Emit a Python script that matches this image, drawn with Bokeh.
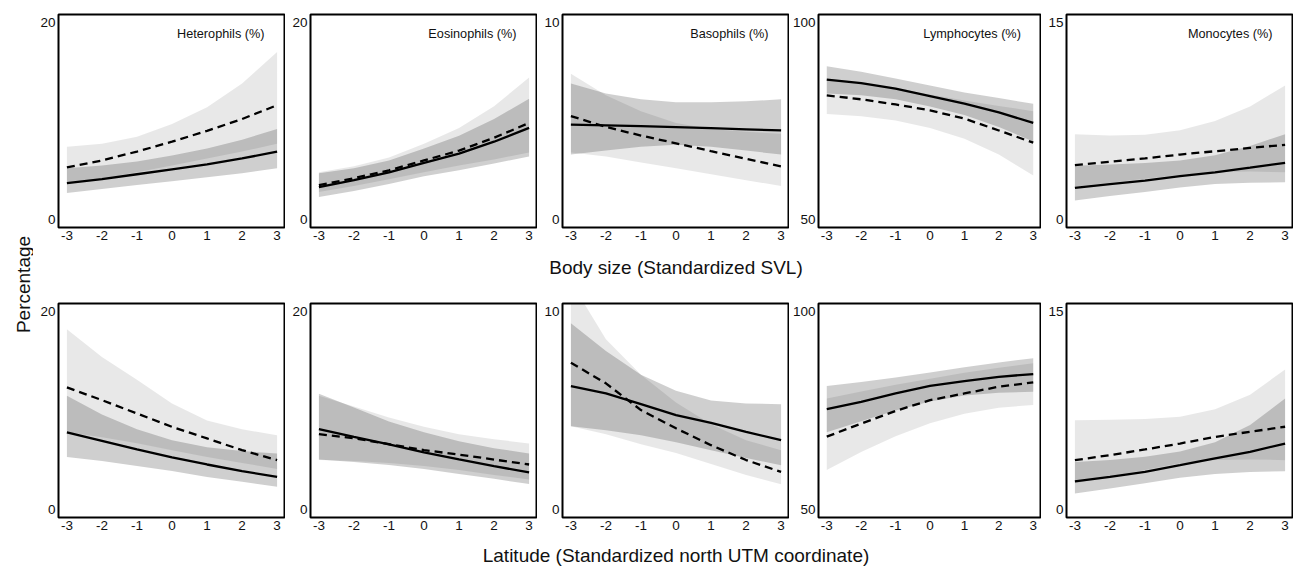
from bokeh.plotting import figure
from bokeh.layouts import row, column
from bokeh.models import Range1d, FixedTicker, Label
from bokeh.embed import file_html
from bokeh.resources import INLINE

FONT = "Liberation Sans"

# ---------------- data ----------------
x_vals = [-3, -2, -1, 0, 1, 2, 3]
x_tick_labels = ["-3", "-2", "-1", "0", "1", "2", "3"]
cell_titles = ["Heterophils (%)", "Eosinophils (%)", "Basophils (%)",
               "Lymphocytes (%)", "Monocytes (%)"]
y_low = [0, 0, 0, 50, 0]
y_high = [20, 20, 10, 100, 15]
x_title_svl = "Body size (Standardized SVL)"
x_title_lat = "Latitude (Standardized north UTM coordinate)"
y_title = "Percentage"

# Row 1: body size (SVL)
het_svl_solid = [3.7, 4.1, 4.6, 5.1, 5.6, 6.2, 6.9]
het_svl_solid_lo = [2.7, 3.1, 3.5, 3.9, 4.3, 4.7, 5.2]
het_svl_solid_hi = [5.2, 5.5, 5.9, 6.5, 7.2, 8.1, 9.2]
het_svl_dash = [5.3, 6.0, 6.9, 7.9, 9.0, 10.2, 11.6]
het_svl_dash_lo = [3.7, 4.2, 4.8, 5.5, 6.2, 6.9, 7.7]
het_svl_dash_hi = [7.4, 7.7, 8.4, 9.7, 11.4, 13.8, 17.0]

eos_svl_solid = [3.3, 4.0, 4.8, 5.75, 6.7, 7.9, 9.3]
eos_svl_solid_lo = [2.3, 2.9, 3.6, 4.4, 5.0, 5.7, 6.4]
eos_svl_solid_hi = [4.7, 5.2, 6.0, 7.2, 8.5, 10.2, 12.25]
eos_svl_dash = [3.5, 4.2, 5.0, 6.0, 7.0, 8.3, 9.8]
eos_svl_dash_lo = [2.8, 3.4, 4.1, 4.8, 5.5, 6.1, 6.8]
eos_svl_dash_hi = [4.8, 5.4, 6.3, 7.7, 9.3, 11.5, 14.4]

bas_svl_solid = [4.82, 4.78, 4.74, 4.69, 4.64, 4.58, 4.52]
bas_svl_solid_lo = [3.3, 3.5, 3.7, 3.8, 3.7, 3.5, 3.3]
bas_svl_solid_hi = [6.9, 6.4, 6.1, 5.95, 5.95, 6.0, 6.1]
bas_svl_dash = [5.25, 4.7, 4.26, 3.87, 3.47, 3.08, 2.7]
bas_svl_dash_lo = [3.4, 3.2, 2.9, 2.6, 2.3, 2.0, 1.7]
bas_svl_dash_hi = [7.4, 6.3, 5.5, 4.9, 4.6, 4.45, 4.35]

lym_svl_solid = [85.5, 84.6, 83.2, 81.3, 79.4, 77.2, 74.5]
lym_svl_solid_lo = [82.0, 81.5, 80.5, 78.7, 76.5, 73.5, 69.8]
lym_svl_solid_hi = [88.9, 87.5, 85.8, 84.0, 82.2, 80.8, 79.4]
lym_svl_dash = [81.5, 80.5, 79.2, 77.7, 75.6, 72.6, 69.5]
lym_svl_dash_lo = [76.8, 76.2, 75.1, 73.2, 70.5, 66.5, 61.2]
lym_svl_dash_hi = [85.5, 84.5, 83.2, 81.7, 80.2, 78.8, 77.5]

mon_svl_solid = [2.41, 2.7, 2.97, 3.3, 3.6, 3.95, 4.32]
mon_svl_solid_lo = [1.45, 1.8, 2.1, 2.45, 2.7, 2.8, 2.84]
mon_svl_solid_hi = [4.1, 4.2, 4.3, 4.5, 4.9, 5.6, 6.5]
mon_svl_dash = [4.14, 4.4, 4.65, 4.95, 5.2, 5.45, 5.69]
mon_svl_dash_lo = [2.5, 2.8, 3.1, 3.4, 3.6, 3.65, 3.6]
mon_svl_dash_hi = [6.5, 6.4, 6.45, 6.8, 7.5, 8.6, 10.2]

# Row 2: latitude
het_lat_solid = [7.79, 6.94, 6.07, 5.26, 4.55, 3.88, 3.3]
het_lat_solid_lo = [5.3, 4.9, 4.4, 3.9, 3.3, 2.8, 2.3]
het_lat_solid_hi = [11.5, 9.6, 8.1, 7.0, 6.3, 5.9, 5.67]
het_lat_dash = [12.33, 11.05, 9.7, 8.35, 7.18, 6.0, 4.99]
het_lat_dash_lo = [7.8, 7.3, 6.7, 6.0, 5.3, 4.7, 4.1]
het_lat_dash_hi = [18.2, 15.4, 13.1, 10.7, 9.0, 8.1, 7.5]

eos_lat_solid = [8.12, 7.34, 6.58, 5.77, 5.06, 4.38, 3.75]
eos_lat_solid_lo = [5.06, 4.8, 4.5, 4.1, 3.6, 3.1, 2.57]
eos_lat_solid_hi = [11.7, 10.3, 8.9, 7.8, 6.9, 6.2, 5.67]
eos_lat_dash = [7.62, 7.2, 6.6, 6.0, 5.55, 5.05, 4.55]
eos_lat_dash_lo = [5.0, 4.9, 4.7, 4.4, 4.0, 3.5, 3.04]
eos_lat_dash_hi = [11.5, 10.4, 9.3, 8.35, 7.6, 7.1, 6.68]

bas_lat_solid = [6.23, 5.86, 5.32, 4.77, 4.38, 3.92, 3.5]
bas_lat_solid_lo = [4.2, 4.0, 3.75, 3.4, 3.0, 2.6, 2.24]
bas_lat_solid_hi = [9.4, 8.0, 6.8, 6.0, 5.5, 5.35, 5.32]
bas_lat_dash = [7.41, 6.37, 5.02, 4.1, 3.25, 2.5, 1.9]
bas_lat_dash_lo = [4.2, 3.8, 3.3, 2.85, 2.3, 1.75, 1.28]
bas_lat_dash_hi = [11.5, 8.6, 6.8, 5.4, 4.3, 3.5, 3.0]

lym_lat_solid = [75.35, 77.2, 79.3, 81.2, 82.4, 83.5, 84.2]
lym_lat_solid_lo = [69.5, 72.3, 75.0, 77.3, 78.8, 79.5, 79.7]
lym_lat_solid_hi = [81.2, 82.2, 83.3, 84.6, 85.9, 87.1, 88.2]
lym_lat_dash = [68.4, 71.7, 74.9, 77.6, 79.3, 81.0, 82.1]
lym_lat_dash_lo = [60.0, 64.5, 68.5, 71.8, 74.2, 75.7, 76.4]
lym_lat_dash_hi = [78.0, 79.8, 81.5, 83.0, 84.5, 85.8, 86.9]

mon_lat_solid = [2.13, 2.48, 2.86, 3.36, 3.87, 4.37, 5.0]
mon_lat_solid_lo = [1.22, 1.6, 2.0, 2.4, 2.7, 2.85, 2.9]
mon_lat_solid_hi = [3.61, 3.75, 4.0, 4.4, 5.1, 6.4, 8.4]
mon_lat_dash = [3.74, 4.12, 4.55, 5.0, 5.5, 5.89, 6.27]
mon_lat_dash_lo = [2.0, 2.5, 3.0, 3.5, 3.75, 3.8, 3.74]
mon_lat_dash_hi = [6.77, 6.8, 6.85, 7.02, 7.6, 8.7, 10.6]

svl_rows = [
    (het_svl_solid, het_svl_solid_lo, het_svl_solid_hi, het_svl_dash, het_svl_dash_lo, het_svl_dash_hi),
    (eos_svl_solid, eos_svl_solid_lo, eos_svl_solid_hi, eos_svl_dash, eos_svl_dash_lo, eos_svl_dash_hi),
    (bas_svl_solid, bas_svl_solid_lo, bas_svl_solid_hi, bas_svl_dash, bas_svl_dash_lo, bas_svl_dash_hi),
    (lym_svl_solid, lym_svl_solid_lo, lym_svl_solid_hi, lym_svl_dash, lym_svl_dash_lo, lym_svl_dash_hi),
    (mon_svl_solid, mon_svl_solid_lo, mon_svl_solid_hi, mon_svl_dash, mon_svl_dash_lo, mon_svl_dash_hi),
]
lat_rows = [
    (het_lat_solid, het_lat_solid_lo, het_lat_solid_hi, het_lat_dash, het_lat_dash_lo, het_lat_dash_hi),
    (eos_lat_solid, eos_lat_solid_lo, eos_lat_solid_hi, eos_lat_dash, eos_lat_dash_lo, eos_lat_dash_hi),
    (bas_lat_solid, bas_lat_solid_lo, bas_lat_solid_hi, bas_lat_dash, bas_lat_dash_lo, bas_lat_dash_hi),
    (lym_lat_solid, lym_lat_solid_lo, lym_lat_solid_hi, lym_lat_dash, lym_lat_dash_lo, lym_lat_dash_hi),
    (mon_lat_solid, mon_lat_solid_lo, mon_lat_solid_hi, mon_lat_dash, mon_lat_dash_lo, mon_lat_dash_hi),
]

# ---------------- layout constants ----------------
FRAME_W = 227
LEFT_B = 25
LAB_W = 33
XPAD = 0.04 * (x_vals[-1] - x_vals[0])
X0, X1 = x_vals[0] - XPAD, x_vals[-1] + XPAD


def make_panel(idx, series, top_row):
    ylo, yhi = y_low[idx], y_high[idx]
    R = yhi - ylo
    fh = 213 if top_row else 214
    bt = 14 if top_row else 6
    bb = 22
    y0, y1 = ylo - 0.04 * R, yhi + 0.04 * R
    p = figure(width=LEFT_B + FRAME_W, height=bt + fh + bb,
               x_range=Range1d(X0, X1), y_range=Range1d(y0, y1),
               output_backend="svg", toolbar_location=None,
               min_border_left=LEFT_B, min_border_right=0,
               min_border_top=bt, min_border_bottom=bb,
               background_fill_color="white", border_fill_color="white")
    p.grid.visible = False
    p.outline_line_color = "black"
    p.outline_line_width = 2
    p.outline_line_alpha = 1.0

    solid, s_lo, s_hi, dash, d_lo, d_hi = series
    p.varea(x=x_vals, y1=d_lo, y2=d_hi, fill_color="black", fill_alpha=0.09)
    p.varea(x=x_vals, y1=s_lo, y2=s_hi, fill_color="black", fill_alpha=0.19)
    p.line(x=x_vals, y=dash, line_color="black", line_width=2.3, line_dash="8 5")
    p.line(x=x_vals, y=solid, line_color="black", line_width=2.3)

    xa = p.xaxis[0]
    xa.ticker = FixedTicker(ticks=x_vals)
    xa.major_label_overrides = {v: t for v, t in zip(x_vals, x_tick_labels)}
    ya = p.yaxis[0]
    ya.ticker = FixedTicker(ticks=[ylo, yhi])
    for ax in (xa, ya):
        ax.axis_line_color = None
        ax.major_tick_line_color = None
        ax.minor_tick_line_color = None
        ax.major_tick_out = 0
        ax.major_tick_in = 0
        ax.major_label_text_font = FONT
        ax.major_label_text_font_size = "13.5px"
        ax.major_label_text_color = "#111111"
    xa.major_label_standoff = 3
    ya.major_label_standoff = 3

    if top_row:
        sx = (X1 - X0) / FRAME_W
        sy = (y1 - y0) / fh
        p.add_layout(Label(x=X1 - 21 * sx, y=y1 - 19 * sy, text=cell_titles[idx],
                           text_align="right", text_baseline="middle",
                           text_font=FONT, text_font_size="12.7px",
                           text_color="#111111"))
    return p


def title_strip(text, height, center_from_top):
    w = 5 * (LEFT_B + FRAME_W)
    f = figure(width=w, height=height, x_range=Range1d(0, w), y_range=Range1d(0, height),
               output_backend="svg", toolbar_location=None,
               min_border_left=0, min_border_right=0, min_border_top=0, min_border_bottom=0,
               outline_line_color=None)
    f.axis.visible = False
    f.grid.visible = False
    cx = 2 * (LEFT_B + FRAME_W) + LEFT_B + FRAME_W / 2
    f.add_layout(Label(x=cx, y=height - center_from_top, text=text,
                       text_align="center", text_baseline="middle",
                       text_font=FONT, text_font_size="19px", text_color="#111111"))
    return f


top = [make_panel(i, svl_rows[i], True) for i in range(5)]
bottom = [make_panel(i, lat_rows[i], False) for i in range(5)]

top_h = top[0].height            # 249
gap_h = 303 - 6 - top_h          # 48
bot_h = bottom[0].height         # 242
end_h = 567 - (top_h + gap_h + bot_h)

strip1 = title_strip(x_title_svl, gap_h, 267 - top_h)
strip2 = title_strip(x_title_lat, end_h, 555 - (top_h + gap_h + bot_h))

total_h = top_h + gap_h + bot_h + end_h
lab = figure(width=LAB_W, height=total_h, x_range=Range1d(0, LAB_W), y_range=Range1d(0, total_h),
             output_backend="svg", toolbar_location=None,
             min_border_left=0, min_border_right=0, min_border_top=0, min_border_bottom=0,
             outline_line_color=None)
lab.axis.visible = False
lab.grid.visible = False
lab.add_layout(Label(x=22.7, y=total_h - 284, text=y_title, angle=1.5707963267948966,
                     text_align="center", text_baseline="middle",
                     text_font=FONT, text_font_size="19px", text_color="#111111"))

layout = row(lab,
             column(row(*top, spacing=0), strip1, row(*bottom, spacing=0), strip2, spacing=0),
             spacing=0)

open("out.html", "w").write(file_html(layout, INLINE))
